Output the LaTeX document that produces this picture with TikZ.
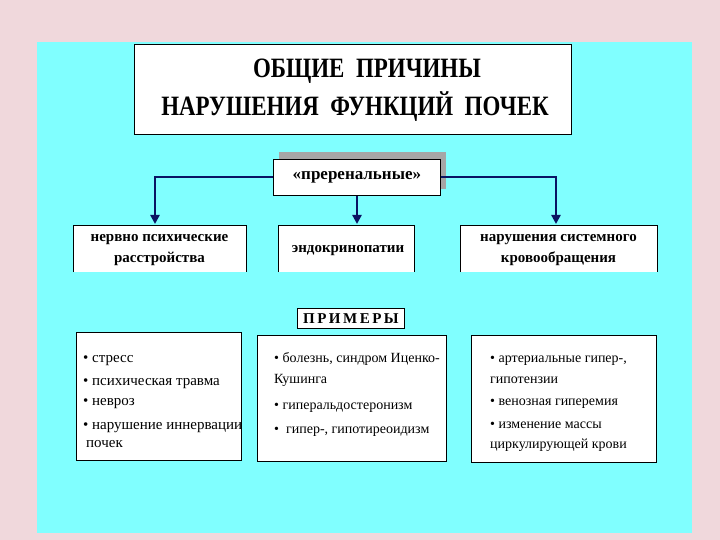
\documentclass[tikz,border=0pt]{standalone}
\usepackage{fontspec}
\setmainfont{Liberation Serif}
\usetikzlibrary{arrows.meta}
\definecolor{bgpink}{RGB}{240,216,220}
\definecolor{panel}{RGB}{128,255,255}
\definecolor{navy}{RGB}{10,20,100}
\tikzset{
  box/.style={draw=black, line width=0.8pt, fill=white, anchor=north west, inner sep=0pt},
  lvl/.style={font=\fontsize{15}{21}\selectfont\bfseries, align=center},
  item/.style={font=\fontsize{14}{16}\selectfont, anchor=base west, inner sep=0pt},
  itemb/.style={font=\fontsize{15}{16}\selectfont, anchor=base west, inner sep=0pt},
  conn/.style={draw=navy, line width=2.8pt, -{Triangle[length=9pt,width=9pt]}},
}
\begin{document}
\begin{tikzpicture}[x=1pt,y=-1pt]
\useasboundingbox (0,0) rectangle (720,540);
\fill[bgpink] (0,0) rectangle (720,540);
\fill[panel] (37,42) rectangle (692,533);
% title
\node[box, minimum width=437pt, minimum height=90pt] (title) at (134,44) {};
\node[font=\fontsize{28}{34}\selectfont\bfseries] (t1) at (367,71) {\scalebox{0.82}[1]{ОБЩИЕ\ \ ПРИЧИНЫ}};
\node[font=\fontsize{28}{34}\selectfont\bfseries] (t2) at (355,107) {\scalebox{0.82}[1]{НАРУШЕНИЯ\ \ ФУНКЦИЙ\ \ ПОЧЕК}};
% prerenal
\fill[gray!70] (279,152) rectangle (446,189);
\node[box, minimum width=167pt, minimum height=36pt] (pre) at (273,159) {};
\node[font=\fontsize{17}{20}\selectfont\bfseries] (pret) at (pre.center) {«преренальные»};
% level 2 boxes
\fill[white] (73,225) rectangle (246,272);
\draw[line width=0.6pt] (73,272) -- (73,225) -- (246,225) -- (246,272);
\coordinate (b1) at (159.5,225);
\node[lvl] (l1) at (159.5,250) {нервно психические\\расстройства};
\fill[white] (278,225) rectangle (414,272);
\draw[line width=0.6pt] (278,272) -- (278,225) -- (414,225) -- (414,272);
\coordinate (b2) at (357,225);
\node[lvl] (l2) at (348,251) {эндокринопатии};
\fill[white] (460,225) rectangle (657,272);
\draw[line width=0.6pt] (460,272) -- (460,225) -- (657,225) -- (657,272);
\coordinate (b3) at (556,225);
\node[lvl] (l3) at (558.5,250) {нарушения системного\\кровообращения};
% connectors
\coordinate (lc) at (155,177);
\coordinate (rc) at (556,177);
\draw[conn] (pre.west |- lc) -- (lc) -- (155,224);
\draw[conn] (pre.east |- rc) -- (rc) -- (556,224);
\draw[conn] (pre.south -| b2) -- (357,224);
% examples label
\node[box, minimum width=107pt, minimum height=20pt] (ex) at (297,308) {};
\node[font=\fontsize{15}{18}\selectfont\bfseries] (ext) at (ex.center) {П\,Р\,И\,М\,Е\,Р\,Ы};
% bottom boxes
\node[box, minimum width=165pt, minimum height=128pt] (e1) at (76,332) {};
\node[box, minimum width=189pt, minimum height=126pt] (e2) at (257,335) {};
\node[box, minimum width=185pt, minimum height=127pt] (e3) at (471,335) {};
\node[itemb] (a1) at (83,362) {• стресс};
\node[itemb] (a2) at (83,385) {• психическая травма};
\node[itemb] (a3) at (83,405) {• невроз};
\node[itemb] (a4) at (83,429) {• нарушение иннервации};
\node[itemb] (a5) at (86,447) {почек};
\node[item] (c1) at (274,362) {• болезнь, синдром Иценко-};
\node[item] (c2) at (274,383) {Кушинга};
\node[item] (c3) at (274,409) {• гиперальдостеронизм};
\node[item] (c4) at (274,433) {•\ \ гипер-, гипотиреоидизм};
\node[item] (d1) at (490,362) {• артериальные гипер-,};
\node[item] (d2) at (490,383) {гипотензии};
\node[item] (d3) at (490,405) {• венозная гиперемия};
\node[item] (d4) at (490,428) {• изменение массы};
\node[item] (d5) at (490,448) {циркулирующей крови};
\end{tikzpicture}
\end{document}
